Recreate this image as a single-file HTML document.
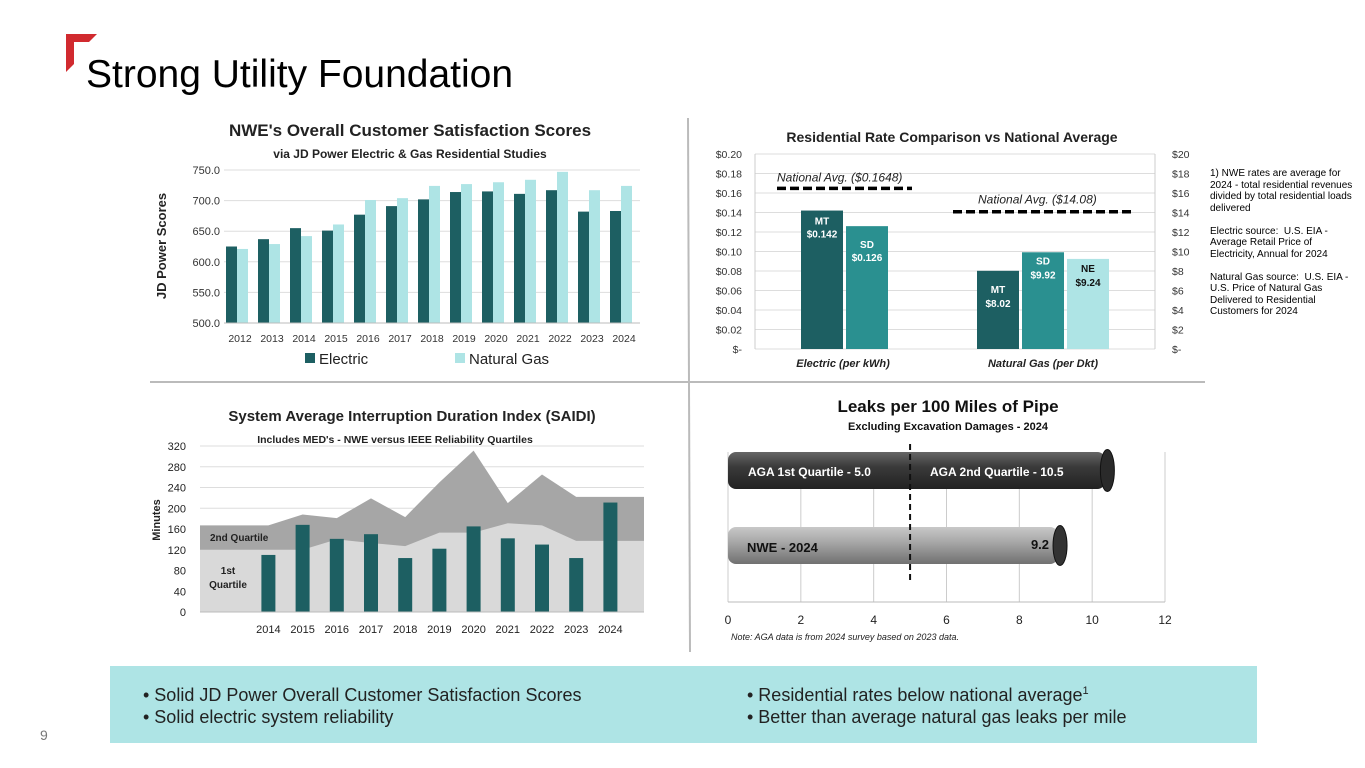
<!DOCTYPE html>
<html><head><meta charset="utf-8"><style>
body{margin:0;width:1365px;height:768px;background:#fff;font-family:"Liberation Sans",sans-serif;overflow:hidden;position:relative}
.abs{position:absolute}
svg text{font-family:"Liberation Sans",sans-serif}
sup{font-size:11px;line-height:0;vertical-align:0;position:relative;top:-7px}
</style></head><body>
<svg class="abs" style="left:0;top:0" width="1365" height="768">
<path d="M66 34 H97 L89 42 H74 V64 L66 72 Z" fill="#d12a2f"/>
<text x="86" y="87" font-size="39" fill="#000">Strong Utility Foundation</text>
<line x1="150" y1="382" x2="1205" y2="382" stroke="#bbb" stroke-width="2"/>
<line x1="688" y1="118" x2="690" y2="652" stroke="#bbb" stroke-width="2"/>
<g id="jd"></g>
<g id="rate"></g>
<g id="saidi"></g>
<g id="leak"></g>
<text x="40" y="740" font-size="14" fill="#777">9</text>
</svg>
<div class="abs" style="left:1210px;top:168px;width:143px;font-size:10px;line-height:11.5px;color:#000">1) NWE rates are average for 2024 - total residential revenues divided by total residential loads delivered<br><br>Electric source:&nbsp; U.S. EIA - Average Retail Price of Electricity, Annual for 2024<br><br>Natural Gas source:&nbsp; U.S. EIA - U.S. Price of Natural Gas Delivered to Residential Customers for 2024</div>
<div class="abs" style="left:110px;top:666px;width:1147px;height:77px;background:#aee4e5">
<div class="abs" style="left:33px;top:18px;font-size:18px;line-height:22px;color:#222">• Solid JD Power Overall Customer Satisfaction Scores<br>• Solid electric system reliability</div>
<div class="abs" style="left:637px;top:18px;font-size:18px;line-height:22px;color:#222">• Residential rates below national average<sup>1</sup><br>• Better than average natural gas leaks per mile</div>
</div>
<script>
const NS='http://www.w3.org/2000/svg';
function mk(p,t,a,txt){const e=document.createElementNS(NS,t);for(const k in a)e.setAttribute(k,a[k]);if(txt!==undefined)e.textContent=txt;p.appendChild(e);return e;}
// JD Power data
const jdYears=['2012','2013','2014','2015','2016','2017','2018','2019','2020','2021','2022','2023','2024'];
const jdElectric=[625,637,655,651,677,691,702,714,715,711,717,682,683];
const jdGas=[621,629,642,661,701,704,724,727,730,734,747,717,724];
const jdTicks=[500,550,600,650,700,750];
// Rate data
const rateElectricLabels=['MT','SD'];
const rateElectric=[0.142,0.126];
const rateGasLabels=['MT','SD','NE'];
const rateGas=[8.02,9.92,9.24];
const natAvgElectric=0.1648;
const natAvgGas=14.08;
const rateTicksL=['$-','$0.02','$0.04','$0.06','$0.08','$0.10','$0.12','$0.14','$0.16','$0.18','$0.20'];
const rateTicksR=['$-','$2','$4','$6','$8','$10','$12','$14','$16','$18','$20'];
// SAIDI data
const saidiCats=['','','2014','2015','2016','2017','2018','2019','2020','2021','2022','2023','2024'];
const saidiNWE=[null,null,110,168,141,150,104,122,165,142,130,104,211];
const saidiQ1=[120,120,120,120,140,133,127,153,153,171,167,137,137];
const saidiQ2=[167,167,167,188,181,219,183,250,311,210,265,222,222];
const saidiTicks=[0,40,80,120,160,200,240,280,320];
// Leaks data
const leakAGA1=5.0, leakAGA2=10.5, leakNWE=9.2;
const leakTicks=[0,2,4,6,8,10,12];

// ---- JD chart
(function(){const g=document.getElementById('jd');
const x0=224,x1=640,yb=323,yt=170,vmin=500,vmax=750;
const y=v=>yb-(v-vmin)/(vmax-vmin)*(yb-yt);
mk(g,'text',{x:410,y:136,'font-size':17,'font-weight':'bold','text-anchor':'middle',fill:'#222'},"NWE's Overall Customer Satisfaction Scores");
mk(g,'text',{x:410,y:158,'font-size':12,'font-weight':'bold','text-anchor':'middle',fill:'#222'},"via JD Power Electric & Gas Residential Studies");
mk(g,'text',{x:166,y:246,'font-size':13,'font-weight':'bold','text-anchor':'middle',fill:'#222',transform:'rotate(-90 166 246)'},'JD Power Scores');
jdTicks.forEach(t=>{mk(g,'line',{x1:x0,x2:x1,y1:y(t),y2:y(t),stroke:'#ddd'});mk(g,'text',{x:x0-4,y:y(t)+4,'font-size':11,'text-anchor':'end',fill:'#333'},t.toFixed(1));});
const w=(x1-x0)/jdYears.length;
jdYears.forEach((yr,i)=>{const cx=x0+w*i;
const b1=mk(g,'rect',{x:cx+2,y:y(jdElectric[i]),width:11,height:yb-y(jdElectric[i]),fill:'#1d5f62'});
const b2=mk(g,'rect',{x:cx+13,y:y(jdGas[i]),width:11,height:yb-y(jdGas[i]),fill:'#aee4e5'});
mk(g,'text',{x:cx+w/2,y:342,'font-size':10.5,'text-anchor':'middle',fill:'#333'},yr);});
mk(g,'line',{x1:x0,x2:x1,y1:yb,y2:yb,stroke:'#bbb'});
mk(g,'rect',{x:305,y:353,width:10,height:10,fill:'#1d5f62'});mk(g,'text',{x:319,y:364,'font-size':15,fill:'#222'},'Electric');
mk(g,'rect',{x:455,y:353,width:10,height:10,fill:'#aee4e5'});mk(g,'text',{x:469,y:364,'font-size':15,fill:'#222'},'Natural Gas');
})();
// ---- Rate chart
(function(){const g=document.getElementById('rate');
const x0=755,x1=1155,yb=349,yt=154;
const yE=v=>yb-v/0.2*(yb-yt), yG=v=>yb-v/20*(yb-yt);
mk(g,'text',{x:952,y:142,'font-size':14,'font-weight':'bold','text-anchor':'middle',fill:'#222'},'Residential Rate Comparison vs National Average');
rateTicksL.forEach((t,i)=>{const yy=yb-i*(yb-yt)/10;mk(g,'line',{x1:x0,x2:x1,y1:yy,y2:yy,stroke:'#ddd'});
mk(g,'text',{x:742,y:yy+4,'font-size':10.5,'text-anchor':'end',fill:'#333'},t);
mk(g,'text',{x:1172,y:yy+4,'font-size':10.5,'text-anchor':'start',fill:'#333'},rateTicksR[i]);});
mk(g,'line',{x1:x0,x2:x0,y1:yt,y2:yb,stroke:'#ccc'});mk(g,'line',{x1:x1,x2:x1,y1:yt,y2:yb,stroke:'#ccc'});
const ce=['#1d5f62','#2a9090'],cg=['#1d5f62','#2a9090','#aee4e5'];
rateElectric.forEach((v,i)=>{const bx=801+i*45;const r=mk(g,'rect',{x:bx,y:yE(v),width:42,height:yb-yE(v),fill:ce[i]});
mk(g,'text',{x:bx+21,y:yE(v)+14+i*8,'font-size':10,'font-weight':'bold','text-anchor':'middle',fill:'#fff'},rateElectricLabels[i]);
mk(g,'text',{x:bx+21,y:yE(v)+27+i*8,'font-size':10,'font-weight':'bold','text-anchor':'middle',fill:'#fff'},'$'+v.toFixed(3));});
rateGas.forEach((v,i)=>{const bx=977+i*45;const r=mk(g,'rect',{x:bx,y:yG(v),width:42,height:yb-yG(v),fill:cg[i]});
const off=[22,12,13][i],col=i==2?'#111':'#fff';
mk(g,'text',{x:bx+21,y:yG(v)+off,'font-size':10,'font-weight':'bold','text-anchor':'middle',fill:col},rateGasLabels[i]);
mk(g,'text',{x:bx+21,y:yG(v)+off+14,'font-size':10,'font-weight':'bold','text-anchor':'middle',fill:col},'$'+v.toFixed(2));});
mk(g,'line',{x1:777,x2:912,y1:yE(natAvgElectric),y2:yE(natAvgElectric),stroke:'#000','stroke-width':3.5,'stroke-dasharray':'9 4'});
mk(g,'text',{x:777,y:yE(natAvgElectric)-7,'font-size':12,'font-style':'italic',fill:'#222'},'National Avg. ($'+natAvgElectric+')');
mk(g,'line',{x1:953,x2:1131,y1:yG(natAvgGas),y2:yG(natAvgGas),stroke:'#000','stroke-width':3.5,'stroke-dasharray':'9 4'});
mk(g,'text',{x:978,y:yG(natAvgGas)-8,'font-size':12,'font-style':'italic',fill:'#222'},'National Avg. ($'+natAvgGas.toFixed(2)+')');
mk(g,'text',{x:843,y:367,'font-size':11,'font-weight':'bold','font-style':'italic','text-anchor':'middle',fill:'#222'},'Electric (per kWh)');
mk(g,'text',{x:1043,y:367,'font-size':11,'font-weight':'bold','font-style':'italic','text-anchor':'middle',fill:'#222'},'Natural Gas (per Dkt)');
})();
// ---- SAIDI chart
(function(){const g=document.getElementById('saidi');
const x0=200,xr=644,yb=612,yt=446,step=34.2;
const y=v=>yb-v/320*(yb-yt), x=i=>x0+i*step;
mk(g,'text',{x:412,y:421,'font-size':15,'font-weight':'bold','text-anchor':'middle',fill:'#222'},'System Average Interruption Duration Index (SAIDI)');
mk(g,'text',{x:395,y:443,'font-size':10.5,'font-weight':'bold','text-anchor':'middle',fill:'#222'},"Includes MED's - NWE versus IEEE Reliability Quartiles");
mk(g,'text',{x:160,y:520,'font-size':11,'font-weight':'bold','text-anchor':'middle',fill:'#222',transform:'rotate(-90 160 520)'},'Minutes');
saidiTicks.forEach(t=>{mk(g,'line',{x1:x0,x2:xr,y1:y(t),y2:y(t),stroke:'#ddd'});mk(g,'text',{x:x0-14,y:y(t)+4,'font-size':11,'text-anchor':'end',fill:'#222'},t);});
function area(vals,fill,name){let d='M'+x0+' '+yb;vals.forEach((v,i)=>{d+=' L'+x(i)+' '+y(v);});d+=' L'+xr+' '+y(vals[vals.length-1])+' L'+xr+' '+yb+' Z';const p=mk(g,'path',{d:d,fill:fill});}
area(saidiQ2,'#a6a6a6','area-2nd-quartile');area(saidiQ1,'#d9d9d9','area-1st-quartile');
saidiCats.forEach((c,i)=>{if(saidiNWE[i]!=null){const r=mk(g,'rect',{x:x(i)-7,y:y(saidiNWE[i]),width:14,height:yb-y(saidiNWE[i]),fill:'#1d5f62'});}
if(c)mk(g,'text',{x:x(i),y:633,'font-size':11,'text-anchor':'middle',fill:'#222'},c);});
mk(g,'line',{x1:x0,x2:xr,y1:yb,y2:yb,stroke:'#bbb'});
mk(g,'text',{x:210,y:541,'font-size':10,'font-weight':'bold',fill:'#222'},'2nd Quartile');
mk(g,'text',{x:228,y:574,'font-size':10,'font-weight':'bold','text-anchor':'middle',fill:'#222'},'1st');
mk(g,'text',{x:228,y:588,'font-size':10,'font-weight':'bold','text-anchor':'middle',fill:'#222'},'Quartile');
})();
// ---- Leaks chart
(function(){const g=document.getElementById('leak');
const x0=728,x1=1165,yb=602;const x=v=>x0+v/12*(x1-x0);
const defs=mk(g,'defs',{});
const lg1=mk(defs,'linearGradient',{id:'pd',x1:0,y1:0,x2:0,y2:1});mk(lg1,'stop',{offset:0,'stop-color':'#666'});mk(lg1,'stop',{offset:0.4,'stop-color':'#3a3a3a'});mk(lg1,'stop',{offset:1,'stop-color':'#222'});
const lg2=mk(defs,'linearGradient',{id:'pl',x1:0,y1:0,x2:0,y2:1});mk(lg2,'stop',{offset:0,'stop-color':'#c8c8c8'});mk(lg2,'stop',{offset:0.4,'stop-color':'#a8a8a8'});mk(lg2,'stop',{offset:1,'stop-color':'#707070'});
mk(g,'text',{x:948,y:412,'font-size':17,'font-weight':'bold','text-anchor':'middle',fill:'#111'},'Leaks per 100 Miles of Pipe');
mk(g,'text',{x:948,y:430,'font-size':11,'font-weight':'bold','text-anchor':'middle',fill:'#111'},'Excluding Excavation Damages - 2024');
leakTicks.forEach(t=>{mk(g,'line',{x1:x(t),x2:x(t),y1:452,y2:yb,stroke:'#ccc'});mk(g,'text',{x:x(t),y:624,'font-size':12,'text-anchor':'middle',fill:'#222'},t);});
mk(g,'line',{x1:x0,x2:x1,y1:yb,y2:yb,stroke:'#bbb'});
const r1=mk(g,'rect',{x:x0,y:452,width:x(leakAGA2)-x0-5,height:37,rx:8,fill:'url(#pd)'});
mk(g,'ellipse',{cx:x(leakAGA2)-3,cy:470.5,rx:7,ry:21,fill:'#2a2a2a',stroke:'#111'});
const r2=mk(g,'rect',{x:x0,y:527,width:x(leakNWE)-x0-5,height:37,rx:8,fill:'url(#pl)'});
mk(g,'ellipse',{cx:x(leakNWE)-3,cy:545.5,rx:7,ry:20,fill:'#333',stroke:'#111'});
mk(g,'line',{x1:x(leakAGA1),x2:x(leakAGA1),y1:444,y2:582,stroke:'#111','stroke-width':2,'stroke-dasharray':'6 4'});
mk(g,'text',{x:748,y:476,'font-size':12,'font-weight':'bold',fill:'#fff'},'AGA 1st Quartile - '+leakAGA1.toFixed(1));
mk(g,'text',{x:930,y:476,'font-size':12,'font-weight':'bold',fill:'#fff'},'AGA 2nd Quartile - '+leakAGA2);
mk(g,'text',{x:747,y:552,'font-size':13,'font-weight':'bold',fill:'#111'},'NWE - 2024');
mk(g,'text',{x:x(leakNWE)-14,y:549,'font-size':13,'font-weight':'bold','text-anchor':'end',fill:'#111'},leakNWE);
mk(g,'text',{x:731,y:640,'font-size':9,'font-style':'italic',fill:'#222'},'Note: AGA data is from 2024 survey based on 2023 data.');
})();
</script>
</body></html>
